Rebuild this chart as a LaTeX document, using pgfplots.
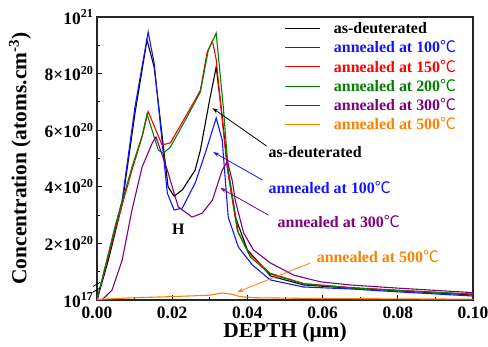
\documentclass[border=0pt]{standalone}
\usepackage{pgfplots}
\pgfplotsset{compat=1.18}
\usepackage{fontspec}
\setmainfont{Liberation Serif}
\newfontfamily\cjk{Noto Sans CJK SC}
\usetikzlibrary{arrows.meta}
\definecolor{cblue}{RGB}{20,20,255}
\definecolor{cred}{RGB}{255,0,0}
\definecolor{cgreen}{RGB}{0,128,0}
\definecolor{cpurple}{RGB}{128,0,128}
\definecolor{corange}{RGB}{255,128,0}
\newcommand{\dc}{{\cjk\mdseries ℃}}
\begin{document}
\begin{tikzpicture}
\path[use as bounding box] (-97bp,-47bp) rectangle (391bp,300bp);
\begin{axis}[
  at={(0,0)}, anchor=south west,
  scale only axis, width=376bp, height=283bp,
  xmin=0, xmax=0.1, ymin=0, ymax=10,
  clip=false,
  xtick={0,0.02,0.04,0.06,0.08,0.1},
  minor xtick={0.01,0.03,0.05,0.07,0.09},
  ytick={0,2,4,6,8,10},
  yticklabels={10\textsuperscript{17},2×10\textsuperscript{20},4×10\textsuperscript{20},6×10\textsuperscript{20},8×10\textsuperscript{20},10\textsuperscript{21}},
  minor ytick={1,3,5,7,9},
  xtick pos=bottom, ytick pos=left,
  tick align=inside,
  major tick length=5bp, minor tick length=3bp,
  every tick/.style={black, line width=1bp},
  axis line style={line width=1.5bp, black!85},
  ticklabel style={font=\bfseries\fontsize{17.5}{20}\selectfont},
  xticklabel style={yshift=-3bp, /pgf/number format/.cd, fixed, fixed zerofill, precision=2, assume math mode=true},
  xlabel={DEPTH (μm)},
  ylabel={Concentration (atoms.cm\textsuperscript{-3})},
  label style={font=\bfseries\fontsize{21.5}{24}\selectfont},
  xlabel style={at={(axis description cs:0.5,-0.114)}, anchor=center},
  ylabel style={at={(axis description cs:-0.205,0.5)}, anchor=center},
  legend style={at={(axis description cs:0.49,0.995)}, anchor=north west, draw=none, fill=none,
    font=\bfseries\fontsize{16}{19.5}\selectfont, cells={anchor=west}, row sep=1.6bp},
  legend image code/.code={\draw[#1, line width=1bp] (0bp,0bp) -- (35bp,0bp); \path[draw=none] (0bp,0bp) -- (47bp,0bp);},
  every axis plot/.append style={line width=1.1bp},
]
\addplot[black] coordinates {
(0,0) (0.003,1.4) (0.0067,3.4) (0.0101,6.6) (0.0133,9.19) (0.0152,8.23) (0.0189,4.0) (0.0205,3.67)
(0.0227,3.89) (0.0261,4.59) (0.0275,5.3) (0.030,7.1) (0.0317,8.23) (0.0333,6.47) (0.0347,4.7)
(0.0368,2.93) (0.040,1.77) (0.042,1.48) (0.0461,0.85) (0.055,0.53) (0.0675,0.42) (0.081,0.32) (0.1,0.18)};
\addlegendentry{as-deuterated}
\addplot[cblue] coordinates {
(0,0) (0.0029,1.52) (0.0067,3.53) (0.0101,6.82) (0.0136,9.47) (0.0152,8.37) (0.0187,3.78) (0.0205,3.18)
(0.0227,3.25) (0.0261,4.13) (0.0288,5.19) (0.0317,6.43) (0.0333,5.65) (0.0349,2.93) (0.0376,1.87)
(0.0413,1.24) (0.0461,0.71) (0.0549,0.46) (0.0675,0.39) (0.081,0.28) (0.1,0.14)};
\addlegendentry{\textcolor{cblue}{annealed at 100\dc}}
\addplot[cred] coordinates {
(0,0) (0.0048,2.47) (0.0093,4.59) (0.012,5.76) (0.0136,6.66) (0.0173,5.48) (0.0195,5.55) (0.0235,6.47)
(0.0261,7.07) (0.0275,7.42) (0.0293,8.76) (0.0307,9.15) (0.0317,8.5) (0.0333,6.36) (0.0347,4.6)
(0.0373,2.47) (0.0403,1.66) (0.046,0.95) (0.055,0.58) (0.0675,0.44) (0.081,0.34) (0.1,0.2)};
\addlegendentry{\textcolor{cred}{annealed at 150\dc}}
\addplot[cgreen] coordinates {
(0,0) (0.0048,2.6) (0.0093,4.7) (0.012,5.8) (0.0133,6.57) (0.0163,5.3) (0.0176,5.19) (0.0195,5.4)
(0.0235,6.36) (0.0275,7.35) (0.0296,8.83) (0.0317,9.43) (0.0336,6.8) (0.0349,4.6) (0.0376,2.37)
(0.0408,1.52) (0.046,0.92) (0.055,0.57) (0.0675,0.43) (0.081,0.33) (0.1,0.21)};
\addlegendentry{\textcolor{cgreen}{annealed at 200\dc}}
\addplot[cpurple] coordinates {
(0,0) (0.0013,0) (0.004,0.35) (0.0067,1.41) (0.0093,3.18) (0.012,4.7) (0.0147,5.55) (0.0157,5.76)
(0.0187,4.59) (0.0216,3.29) (0.0253,2.93) (0.028,3.07) (0.0307,3.53) (0.0333,4.59) (0.0347,4.9)
(0.036,4.2) (0.0368,3.5) (0.039,2.37) (0.0416,1.77) (0.0461,1.31) (0.0523,0.88) (0.0595,0.64)
(0.0675,0.53) (0.08,0.42) (0.1,0.26)};
\addlegendentry{\textcolor{cpurple}{annealed at 300\dc}}
\addplot[corange] coordinates {
(0,0.02) (0.01,0.08) (0.02,0.12) (0.03,0.17) (0.0333,0.25) (0.036,0.2) (0.038,0.12) (0.042,0.08)
(0.06,0.05) (0.1,0.03)};
\addlegendentry{\textcolor{corange}{annealed at 500\dc}}

\node[anchor=west, font=\bfseries\fontsize{16}{19}\selectfont, inner sep=0pt] at (axis cs:0.0456,5.23) {as-deuterated};
\draw[black, line width=0.8bp, -{Stealth[length=6bp,width=4bp]}] (axis cs:0.0451,5.44) -- (axis cs:0.0307,6.78);
\node[anchor=west, font=\bfseries\fontsize{16}{19}\selectfont, inner sep=0pt, text=cblue] at (axis cs:0.0456,3.99) {annealed at 100\dc};
\draw[cblue, line width=0.8bp, -{Stealth[length=6bp,width=4bp]}] (axis cs:0.044,4.24) -- (axis cs:0.0309,5.23);
\node[anchor=west, font=\bfseries\fontsize{16}{19}\selectfont, inner sep=0pt, text=cpurple] at (axis cs:0.048,2.76) {annealed at 300\dc};
\draw[cpurple, line width=0.8bp, -{Stealth[length=6bp,width=4bp]}] (axis cs:0.0456,3.0) -- (axis cs:0.0328,3.96);
\node[anchor=west, font=\bfseries\fontsize{16}{19}\selectfont, inner sep=0pt, text=corange] at (axis cs:0.0584,1.55) {annealed at 500\dc};
\draw[corange, line width=0.8bp, -{Stealth[length=6bp,width=4bp]}] (axis cs:0.0568,1.31) -- (axis cs:0.0373,0.28);
\node[font=\bfseries\fontsize{16}{19}\selectfont] at (axis cs:0.0216,2.51) {H};
\draw[line width=0.8bp] (axis cs:0,0.35) ++(-4bp,-2bp) -- ++(7bp,4bp);
\draw[line width=0.8bp] (axis cs:0,0.55) ++(-4bp,-2bp) -- ++(7bp,4bp);
\end{axis}
\end{tikzpicture}
\end{document}
